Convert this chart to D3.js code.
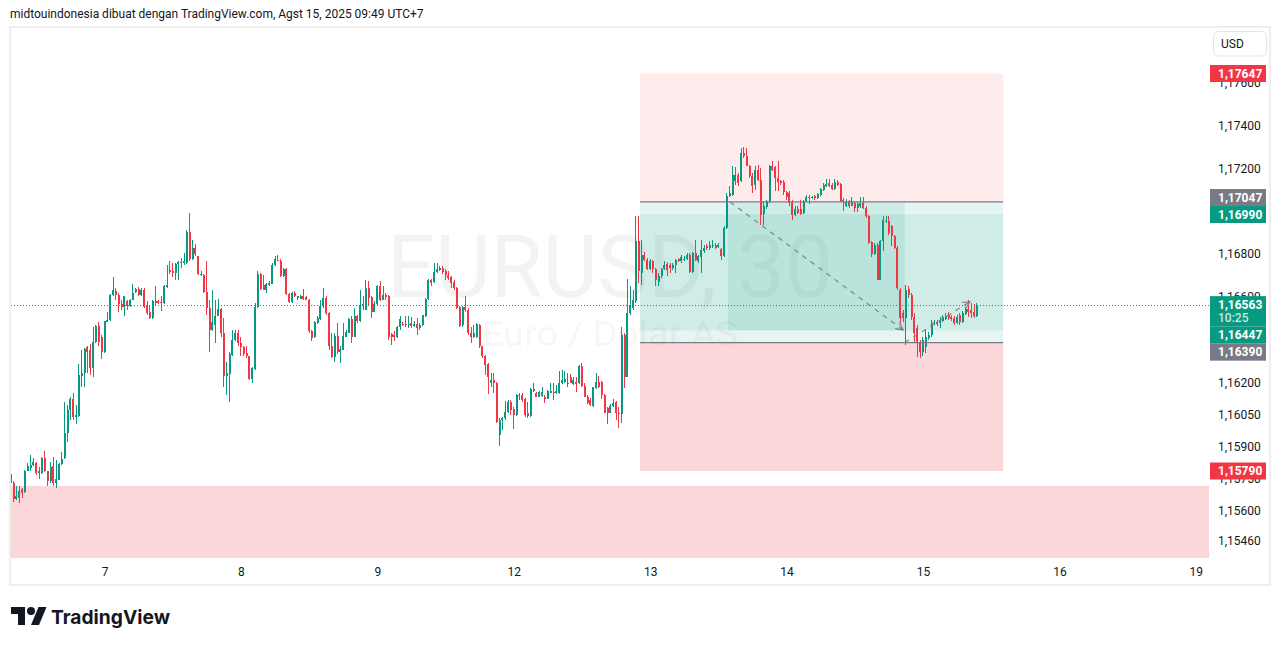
<!DOCTYPE html>
<html><head><meta charset="utf-8">
<script src="https://cdn.jsdelivr.net/npm/d3@7"></script>
<style>html,body{margin:0;padding:0;background:#fff;}svg{display:block}</style>
</head><body>
<svg id="c" width="1281" height="646"></svg>
<script>
// ---------- DATA (EURUSD 30m) ----------
const open = [1.15777,1.15733,1.15658,1.15666,1.15705,1.15691,1.15791,1.15803,1.15818,1.15826,
1.15780,1.15780,1.15849,1.15788,1.15741,1.15815,1.15733,1.15749,1.15821,1.15849,
1.15966,1.16075,1.16125,1.16041,1.16047,1.16236,1.16247,1.16367,1.16356,1.16273,
1.16392,1.16468,1.16418,1.16344,1.16487,1.16496,1.16610,1.16629,1.16613,1.16571,
1.16554,1.16582,1.16559,1.16590,1.16624,1.16642,1.16610,1.16637,1.16562,1.16531,
1.16504,1.16585,1.16582,1.16580,1.16574,1.16649,1.16730,1.16726,1.16715,1.16759,
1.16760,1.16762,1.16762,1.16905,1.16780,1.16832,1.16793,1.16707,1.16707,1.16626,
1.16551,1.16447,1.16473,1.16515,1.16548,1.16434,1.16236,1.16244,1.16333,1.16403,
1.16437,1.16390,1.16370,1.16340,1.16325,1.16220,1.16266,1.16556,1.16712,1.16660,
1.16637,1.16660,1.16665,1.16751,1.16777,1.16773,1.16699,1.16734,1.16617,1.16579,
1.16621,1.16596,1.16595,1.16606,1.16601,1.16590,1.16445,1.16414,1.16481,1.16501,
1.16559,1.16598,1.16528,1.16372,1.16322,1.16421,1.16344,1.16356,1.16418,1.16437,
1.16501,1.16418,1.16515,1.16489,1.16559,1.16543,1.16645,1.16603,1.16535,1.16571,
1.16656,1.16590,1.16610,1.16606,1.16428,1.16425,1.16418,1.16465,1.16478,1.16478,
1.16476,1.16481,1.16468,1.16478,1.16457,1.16473,1.16512,1.16593,1.16681,1.16671,
1.16721,1.16730,1.16737,1.16723,1.16707,1.16696,1.16671,1.16645,1.16556,1.16471,
1.16556,1.16543,1.16437,1.16418,1.16418,1.16473,1.16372,1.16325,1.16291,1.16203,
1.16216,1.16203,1.15958,1.16028,1.16036,1.16067,1.16114,1.16078,1.16052,1.16141,
1.16145,1.16125,1.16060,1.16047,1.16166,1.16153,1.16138,1.16141,1.16138,1.16128,
1.16156,1.16161,1.16153,1.16153,1.16200,1.16208,1.16197,1.16231,1.16197,1.16208,
1.16200,1.16281,1.16187,1.16138,1.16122,1.16094,1.16177,1.16208,1.16208,1.16145,
1.16083,1.16063,1.16094,1.16114,1.16060,1.16055,1.16426,1.16231,1.16528,1.16551,
1.16582,1.16863,1.16715,1.16800,1.16777,1.16733,1.16769,1.16733,1.16671,1.16699,
1.16733,1.16758,1.16754,1.16738,1.16754,1.16780,1.16769,1.16777,1.16780,1.16800,
1.16722,1.16808,1.16769,1.16790,1.16816,1.16839,1.16832,1.16839,1.16847,1.16836,
1.16827,1.16793,1.16925,1.17076,1.17081,1.17143,1.17175,1.17143,1.17276,1.17263,
1.17217,1.17170,1.17128,1.17198,1.17151,1.16992,1.17023,1.17050,1.17213,1.17210,
1.17159,1.17143,1.17139,1.17092,1.17089,1.17045,1.16988,1.17014,1.17014,1.16995,
1.17050,1.17070,1.17067,1.17073,1.17065,1.17081,1.17104,1.17120,1.17136,1.17128,
1.17107,1.17139,1.17133,1.17058,1.17026,1.17050,1.17029,1.17042,1.17019,1.17026,
1.17042,1.17019,1.16980,1.16858,1.16805,1.16847,1.16683,1.16863,1.16956,1.16959,
1.16933,1.16889,1.16832,1.16637,1.16529,1.16506,1.16641,1.16613,1.16510,1.16459,
1.16393,1.16347,1.16370,1.16412,1.16426,1.16482,1.16487,1.16482,1.16492,1.16501,
1.16520,1.16510,1.16506,1.16482,1.16520,1.16487,1.16524,1.16548,1.16543,1.16534,
1.16515];
const high = [1.15783,1.15741,1.15721,1.15721,1.15710,1.15795,1.15826,1.15865,1.15849,1.15834,
1.15811,1.15857,1.15883,1.15792,1.15834,1.15857,1.15841,1.15826,1.15880,1.16114,
1.16099,1.16138,1.16156,1.16099,1.16291,1.16353,1.16364,1.16372,1.16384,1.16465,
1.16473,1.16484,1.16426,1.16492,1.16531,1.16617,1.16695,1.16645,1.16621,1.16587,
1.16609,1.16590,1.16593,1.16663,1.16645,1.16648,1.16645,1.16645,1.16585,1.16559,
1.16590,1.16656,1.16590,1.16606,1.16660,1.16754,1.16773,1.16762,1.16762,1.16770,
1.16785,1.16808,1.16918,1.16993,1.16871,1.16852,1.16796,1.16723,1.16712,1.16773,
1.16590,1.16634,1.16590,1.16593,1.16551,1.16504,1.16301,1.16344,1.16447,1.16450,
1.16450,1.16418,1.16372,1.16372,1.16328,1.16278,1.16574,1.16723,1.16715,1.16707,
1.16668,1.16676,1.16762,1.16793,1.16801,1.16780,1.16738,1.16738,1.16621,1.16624,
1.16629,1.16609,1.16610,1.16640,1.16606,1.16593,1.16450,1.16489,1.16512,1.16590,
1.16645,1.16606,1.16531,1.16434,1.16437,1.16481,1.16372,1.16481,1.16450,1.16504,
1.16512,1.16551,1.16520,1.16637,1.16606,1.16684,1.16679,1.16609,1.16582,1.16660,
1.16676,1.16656,1.16621,1.16613,1.16437,1.16442,1.16468,1.16512,1.16484,1.16512,
1.16512,1.16509,1.16489,1.16504,1.16481,1.16520,1.16598,1.16687,1.16687,1.16762,
1.16762,1.16746,1.16746,1.16734,1.16723,1.16702,1.16681,1.16649,1.16562,1.16562,
1.16606,1.16551,1.16465,1.16473,1.16481,1.16478,1.16375,1.16333,1.16294,1.16247,
1.16247,1.16208,1.16036,1.16044,1.16117,1.16122,1.16122,1.16091,1.16148,1.16153,
1.16156,1.16130,1.16114,1.16177,1.16203,1.16161,1.16166,1.16184,1.16145,1.16169,
1.16200,1.16203,1.16192,1.16255,1.16262,1.16259,1.16247,1.16244,1.16231,1.16228,
1.16284,1.16294,1.16200,1.16145,1.16130,1.16184,1.16247,1.16234,1.16211,1.16150,
1.16091,1.16103,1.16125,1.16119,1.16091,1.16465,1.16434,1.16687,1.16656,1.16637,
1.16980,1.16980,1.16870,1.16811,1.16785,1.16780,1.16777,1.16738,1.16715,1.16738,
1.16769,1.16765,1.16761,1.16761,1.16780,1.16785,1.16800,1.16793,1.16808,1.16808,
1.16811,1.16870,1.16800,1.16870,1.16847,1.16852,1.16863,1.16870,1.16855,1.16855,
1.16832,1.16933,1.17089,1.17120,1.17213,1.17210,1.17182,1.17299,1.17304,1.17299,
1.17221,1.17182,1.17213,1.17221,1.17206,1.17050,1.17058,1.17221,1.17237,1.17217,
1.17237,1.17151,1.17151,1.17097,1.17097,1.17058,1.17026,1.17026,1.17058,1.17058,
1.17081,1.17081,1.17076,1.17081,1.17089,1.17112,1.17136,1.17156,1.17154,1.17136,
1.17156,1.17148,1.17136,1.17065,1.17061,1.17058,1.17070,1.17050,1.17045,1.17070,
1.17070,1.17026,1.16988,1.16863,1.16855,1.16855,1.16870,1.16980,1.16980,1.16980,
1.16941,1.16894,1.16839,1.16646,1.16543,1.16660,1.16655,1.16622,1.16529,1.16473,
1.16403,1.16417,1.16454,1.16440,1.16496,1.16496,1.16496,1.16510,1.16520,1.16529,
1.16534,1.16520,1.16515,1.16520,1.16529,1.16538,1.16557,1.16590,1.16576,1.16571,
1.16576];
const low = [1.15730,1.15647,1.15655,1.15642,1.15663,1.15686,1.15788,1.15788,1.15815,1.15772,
1.15752,1.15777,1.15783,1.15718,1.15733,1.15721,1.15710,1.15746,1.15818,1.15844,
1.15927,1.16028,1.16028,1.16010,1.16044,1.16181,1.16181,1.16247,1.16239,1.16231,
1.16387,1.16372,1.16312,1.16340,1.16484,1.16493,1.16606,1.16590,1.16535,1.16543,
1.16512,1.16543,1.16556,1.16587,1.16621,1.16609,1.16606,1.16551,1.16520,1.16500,
1.16500,1.16567,1.16571,1.16538,1.16571,1.16645,1.16712,1.16695,1.16684,1.16684,
1.16738,1.16754,1.16759,1.16770,1.16777,1.16796,1.16707,1.16702,1.16621,1.16520,
1.16344,1.16442,1.16387,1.16512,1.16418,1.16184,1.16145,1.16114,1.16328,1.16395,
1.16375,1.16325,1.16325,1.16317,1.16216,1.16200,1.16262,1.16551,1.16637,1.16634,
1.16621,1.16656,1.16663,1.16748,1.16770,1.16696,1.16696,1.16613,1.16574,1.16574,
1.16601,1.16590,1.16593,1.16590,1.16587,1.16437,1.16395,1.16411,1.16478,1.16496,
1.16551,1.16520,1.16356,1.16317,1.16297,1.16337,1.16294,1.16353,1.16414,1.16434,
1.16387,1.16415,1.16481,1.16484,1.16543,1.16540,1.16559,1.16504,1.16531,1.16567,
1.16582,1.16587,1.16590,1.16403,1.16379,1.16395,1.16411,1.16450,1.16468,1.16465,
1.16457,1.16457,1.16465,1.16426,1.16450,1.16468,1.16509,1.16590,1.16656,1.16668,
1.16715,1.16723,1.16712,1.16684,1.16684,1.16645,1.16637,1.16547,1.16465,1.16465,
1.16535,1.16426,1.16387,1.16411,1.16411,1.16364,1.16317,1.16239,1.16150,1.16184,
1.16153,1.16016,1.15907,1.15981,1.16028,1.16060,1.16052,1.15985,1.16047,1.16122,
1.16114,1.16044,1.16036,1.16044,1.16161,1.16135,1.16135,1.16138,1.16109,1.16125,
1.16153,1.16122,1.16150,1.16150,1.16197,1.16200,1.16184,1.16200,1.16192,1.16161,
1.16197,1.16184,1.16135,1.16103,1.16094,1.16091,1.16174,1.16177,1.16125,1.16060,
1.16010,1.16060,1.16091,1.16028,1.15993,1.16016,1.16177,1.16228,1.16520,1.16543,
1.16577,1.16668,1.16660,1.16769,1.16727,1.16727,1.16715,1.16652,1.16652,1.16691,
1.16727,1.16699,1.16715,1.16730,1.16715,1.16765,1.16761,1.16769,1.16774,1.16715,
1.16715,1.16769,1.16761,1.16715,1.16808,1.16824,1.16824,1.16832,1.16827,1.16832,
1.16774,1.16790,1.16920,1.17070,1.17076,1.17128,1.17120,1.17139,1.17253,1.17213,
1.17159,1.17089,1.17104,1.17143,1.16941,1.16941,1.17014,1.17042,1.17190,1.17097,
1.17097,1.17128,1.17081,1.17058,1.17026,1.16964,1.16980,1.16992,1.16988,1.16992,
1.17045,1.17039,1.17061,1.17058,1.17061,1.17076,1.17100,1.17117,1.17117,1.17101,
1.17104,1.17120,1.17045,1.17003,1.17023,1.17019,1.17026,1.16998,1.16998,1.17019,
1.17014,1.16972,1.16852,1.16790,1.16800,1.16680,1.16680,1.16816,1.16948,1.16894,
1.16839,1.16827,1.16637,1.16482,1.16487,1.16379,1.16599,1.16496,1.16393,1.16323,
1.16318,1.16328,1.16342,1.16403,1.16417,1.16473,1.16468,1.16459,1.16487,1.16496,
1.16496,1.16492,1.16473,1.16478,1.16473,1.16482,1.16520,1.16510,1.16506,1.16506,
1.16510];
const close = [1.15733,1.15658,1.15671,1.15697,1.15689,1.15791,1.15815,1.15818,1.15834,1.15780,
1.15791,1.15852,1.15788,1.15741,1.15811,1.15733,1.15752,1.15821,1.15844,1.15966,
1.16075,1.16125,1.16044,1.16052,1.16239,1.16247,1.16361,1.16344,1.16273,1.16392,
1.16468,1.16392,1.16348,1.16489,1.16496,1.16613,1.16634,1.16613,1.16570,1.16554,
1.16607,1.16559,1.16590,1.16621,1.16642,1.16613,1.16637,1.16556,1.16528,1.16503,
1.16585,1.16574,1.16577,1.16577,1.16656,1.16660,1.16718,1.16715,1.16759,1.16765,
1.16765,1.16773,1.16905,1.16780,1.16832,1.16805,1.16712,1.16712,1.16626,1.16551,
1.16447,1.16484,1.16515,1.16548,1.16434,1.16236,1.16247,1.16337,1.16403,1.16437,
1.16390,1.16370,1.16336,1.16325,1.16219,1.16269,1.16556,1.16712,1.16640,1.16637,
1.16665,1.16668,1.16754,1.16780,1.16773,1.16699,1.16734,1.16617,1.16579,1.16621,
1.16606,1.16606,1.16607,1.16595,1.16590,1.16442,1.16411,1.16484,1.16504,1.16559,
1.16596,1.16528,1.16372,1.16322,1.16421,1.16344,1.16359,1.16421,1.16440,1.16501,
1.16418,1.16512,1.16489,1.16562,1.16568,1.16645,1.16598,1.16535,1.16571,1.16656,
1.16590,1.16610,1.16603,1.16418,1.16418,1.16418,1.16465,1.16501,1.16475,1.16476,
1.16478,1.16468,1.16478,1.16457,1.16473,1.16517,1.16593,1.16681,1.16668,1.16721,
1.16735,1.16737,1.16718,1.16705,1.16690,1.16668,1.16643,1.16551,1.16468,1.16556,
1.16543,1.16434,1.16418,1.16434,1.16478,1.16372,1.16325,1.16286,1.16231,1.16216,
1.16200,1.16020,1.16028,1.16039,1.16067,1.16114,1.16075,1.16052,1.16145,1.16145,
1.16122,1.16052,1.16047,1.16172,1.16172,1.16138,1.16161,1.16161,1.16128,1.16164,
1.16166,1.16153,1.16166,1.16200,1.16216,1.16219,1.16200,1.16203,1.16216,1.16197,
1.16281,1.16187,1.16138,1.16109,1.16099,1.16181,1.16208,1.16184,1.16145,1.16063,
1.16063,1.16094,1.16106,1.16060,1.16055,1.16426,1.16231,1.16528,1.16562,1.16590,
1.16863,1.16723,1.16800,1.16777,1.16733,1.16769,1.16733,1.16683,1.16699,1.16733,
1.16754,1.16730,1.16738,1.16754,1.16774,1.16769,1.16788,1.16780,1.16800,1.16718,
1.16808,1.16777,1.16793,1.16824,1.16832,1.16832,1.16846,1.16847,1.16832,1.16846,
1.16793,1.16925,1.17076,1.17089,1.17175,1.17175,1.17136,1.17276,1.17260,1.17217,
1.17170,1.17123,1.17198,1.17151,1.16988,1.17026,1.17050,1.17217,1.17198,1.17159,
1.17139,1.17136,1.17092,1.17070,1.17042,1.16988,1.17014,1.16995,1.16992,1.17050,
1.17070,1.17067,1.17070,1.17064,1.17084,1.17107,1.17128,1.17129,1.17120,1.17107,
1.17139,1.17128,1.17050,1.17050,1.17050,1.17026,1.17045,1.17019,1.17039,1.17042,
1.17019,1.16980,1.16855,1.16805,1.16847,1.16683,1.16863,1.16961,1.16959,1.16902,
1.16886,1.16832,1.16644,1.16506,1.16506,1.16637,1.16613,1.16510,1.16435,1.16389,
1.16347,1.16403,1.16417,1.16426,1.16482,1.16487,1.16478,1.16496,1.16510,1.16515,
1.16506,1.16501,1.16482,1.16510,1.16487,1.16529,1.16548,1.16534,1.16529,1.16515,
1.16563];

// time axis: candle index of each day label (30m bars, weekend skipped)
const dayTickIndex = [33, 81, 129, 177, 225, 273, 321, 369, 417];
const dayTickLabels = ["7", "8", "9", "12", "13", "14", "15", "16", "19"];
// price axis tick labels
const priceTicks = [1.17600, 1.17400, 1.17200, 1.16800, 1.16600, 1.16200, 1.16050, 1.15900, 1.15750, 1.15600, 1.15460];
const lastPrice = 1.16563;
const countdown = "10:25";

// drawings (time in bar index, values in price)
const posFrom = 221.4, posTo = 349.2;
const stopTop = 1.17647, entryShort = 1.17047, targetUpper = 1.16990;
const targetLower = 1.16447, entryLong = 1.16390, stopBottom = 1.15790;
const innerBox = {from: 252.4, to: 314.6, top: 1.17047, bottom: 1.16447};
const supportZone = {from: -20, to: 430, top: 1.15720, bottom: 1.15300};
const arrowDown = [[253.1, 1.17047], [314.0, 1.16449]];
const arrowUp = [[314.6, 1.16390], [337.5, 1.16581]];

const headerText = "midtouindonesia dibuat dengan TradingView.com, Agst 15, 2025 09:49 UTC+7";
const watermark1 = "EURUSD, 30", watermark2 = "Euro / Dolar AS";
const currency = "USD";

// ---------- CHART ----------
const UP = "#089981", DOWN = "#f23645", GRAY = "#787b86", TXT = "#131722";
const FONT = "Roboto, 'Noto Sans', sans-serif";
const svg = d3.select("#c");
const pane = {l: 11, r: 1209, t: 28, b: 558};

const x = d3.scaleLinear().domain([33, 417]).range([104.5, 1195.8]);
const y = d3.scaleLinear().domain([1.15790, 1.17647]).range([471, 73.5]);
const fmt = v => v.toFixed(5).replace(".", ",");

svg.append("rect").attr("width", 1281).attr("height", 646).attr("fill", "#fff");

const defs = svg.append("defs");
defs.append("clipPath").attr("id", "paneClip").append("rect")
  .attr("x", pane.l).attr("y", pane.t).attr("width", pane.r - pane.l).attr("height", pane.b - pane.t);
defs.append("marker").attr("id", "ah").attr("viewBox", "0 0 10 10").attr("refX", 9).attr("refY", 5)
  .attr("markerWidth", 9).attr("markerHeight", 9).attr("markerUnits", "userSpaceOnUse").attr("orient", "auto")
  .append("path").attr("d", "M1,1 L9,5 L1,9").attr("fill", "none").attr("stroke", GRAY).attr("stroke-width", 1.3);

const g = svg.append("g").attr("clip-path", "url(#paneClip)");

// watermark
const cxPane = (pane.l + pane.r) / 2;
const wm1 = g.append("text").attr("x", cxPane).attr("y", 297).attr("text-anchor", "middle")
  .attr("font-family", FONT).attr("font-size", 87).attr("fill", TXT).attr("fill-opacity", 0.05).text(watermark1);
const wm2 = g.append("text").attr("x", cxPane).attr("y", 346).attr("text-anchor", "middle")
  .attr("font-family", FONT).attr("font-size", 35).attr("fill", TXT).attr("fill-opacity", 0.05).text(watermark2);
function fitWidth(sel, target){ const w = sel.node().getComputedTextLength(); if (w > 0) sel.attr("textLength", target).attr("lengthAdjust", "spacingAndGlyphs"); }
fitWidth(wm1, 446); fitWidth(wm2, 256);

const rectP = (from, to, top, bottom, fill) => g.append("rect")
  .attr("x", x(from)).attr("width", x(to) - x(from))
  .attr("y", y(top)).attr("height", y(bottom) - y(top)).attr("fill", fill);

// support zone
rectP(supportZone.from, supportZone.to, supportZone.top, supportZone.bottom, "rgba(242,54,69,0.2)");
// position tools
rectP(posFrom, posTo, stopTop, entryShort, "rgba(242,54,69,0.1)");
rectP(posFrom, posTo, entryShort, entryLong, "rgba(8,153,129,0.1)");
rectP(posFrom, posTo, targetUpper, targetLower, "rgba(8,153,129,0.1)");
rectP(posFrom, posTo, entryLong, stopBottom, "rgba(242,54,69,0.2)");
rectP(innerBox.from, innerBox.to, innerBox.top, innerBox.bottom, "rgba(8,153,129,0.1)");

// candles
const gc = g.append("g").attr("shape-rendering", "crispEdges");
d3.range(close.length).forEach(i => {
  const col = close[i] >= open[i] ? UP : DOWN;
  const cx = x(i);
  gc.append("rect").attr("x", Math.round(cx - 0.5)).attr("width", 1)
    .attr("y", y(high[i])).attr("height", Math.max(1, y(low[i]) - y(high[i]))).attr("fill", col);
  const bt = y(Math.max(open[i], close[i])), bb = y(Math.min(open[i], close[i]));
  gc.append("rect").attr("x", Math.round(cx - 1)).attr("width", 2)
    .attr("y", bt).attr("height", Math.max(1, bb - bt)).attr("fill", col);
});

// entry lines
[entryShort, entryLong].forEach(v => g.append("line")
  .attr("x1", x(posFrom)).attr("x2", x(posTo)).attr("y1", y(v)).attr("y2", y(v))
  .attr("stroke", GRAY).attr("stroke-width", 1.2));

// dashed arrows
[arrowDown, arrowUp].forEach(a => g.append("line")
  .attr("x1", x(a[0][0])).attr("y1", y(a[0][1])).attr("x2", x(a[1][0])).attr("y2", y(a[1][1]))
  .attr("stroke", GRAY).attr("stroke-opacity", 0.85).attr("stroke-width", 1.3)
  .attr("stroke-dasharray", "5,5").attr("marker-end", "url(#ah)"));

// last price line
g.append("line").attr("x1", pane.l).attr("x2", pane.r).attr("y1", y(lastPrice)).attr("y2", y(lastPrice))
  .attr("stroke", UP).attr("stroke-width", 1).attr("stroke-dasharray", "1,2");

// axes
const yAxis = d3.axisRight(y).tickValues(priceTicks).tickFormat(fmt).tickSize(0).tickPadding(9);
svg.append("g").attr("transform", `translate(${pane.r},0)`).call(yAxis)
  .attr("font-family", FONT).attr("font-size", 12)
  .call(a => a.select(".domain").remove())
  .selectAll("text").attr("fill", TXT).attr("dy", "0.25em");
const xAxis = d3.axisBottom(x).tickValues(dayTickIndex).tickFormat((d, i) => dayTickLabels[i]).tickSize(0).tickPadding(9);
svg.append("g").attr("transform", `translate(0,${pane.b})`).call(xAxis)
  .attr("font-family", FONT).attr("font-size", 12)
  .call(a => a.select(".domain").remove())
  .selectAll("text").attr("fill", TXT);

// price badges
const badges = [
  {v: stopTop, fill: DOWN, lines: [fmt(stopTop)]},
  {v: entryShort, fill: GRAY, lines: [fmt(entryShort)]},
  {v: targetUpper, fill: UP, lines: [fmt(targetUpper)]},
  {v: lastPrice, fill: UP, lines: [fmt(lastPrice), countdown]},
  {v: targetLower, fill: UP, lines: [fmt(targetLower)]},
  {v: entryLong, fill: GRAY, lines: [fmt(entryLong)]},
  {v: stopBottom, fill: DOWN, lines: [fmt(stopBottom)]},
];
badges.forEach(b => { b.y = y(b.v); b.h = b.lines.length > 1 ? 30.5 : 17; b.anchor = 8.5; });
badges.sort((a, b) => a.y - b.y);
let groups = badges.map(b => ({items: [b], top: b.y - b.anchor, h: b.h}));
let changed = true;
while (changed) {
  changed = false;
  for (let k = 0; k < groups.length - 1; k++) {
    const a = groups[k], n = groups[k + 1];
    if (a.top + a.h > n.top + 0.01) {
      const items = a.items.concat(n.items);
      const h = a.h + n.h;
      const c = d3.mean(items, it => it.y - it.anchor + it.h / 2);
      groups.splice(k, 2, {items, top: c - h / 2 - (items.length === 2 ? 2 : 0), h});
      changed = true; break;
    }
  }
}
groups.forEach(gr => { let t = gr.top; gr.items.forEach(it => { it.top = t; t += it.h; }); });
const gb = svg.append("g").attr("font-family", FONT).attr("font-size", 12);
badges.forEach(b => {
  gb.append("rect").attr("x", 1210).attr("y", b.top).attr("width", 56).attr("height", b.h).attr("fill", b.fill);
  b.lines.forEach((t, j) => gb.append("text").attr("x", 1218).attr("y", b.top + 8.5 + j * 13.2)
    .attr("dy", "0.35em").attr("font-weight", j === 0 ? 700 : 500)
    .attr("fill", j === 0 ? "#fff" : "rgba(255,255,255,0.8)").text(t));
});

// currency button
svg.append("rect").attr("x", 1213.5).attr("y", 31.5).attr("width", 53).attr("height", 24.5).attr("rx", 5)
  .attr("fill", "#fff").attr("stroke", "#e0e3eb");
svg.append("text").attr("x", 1221).attr("y", 44).attr("dy", "0.35em").attr("font-family", FONT)
  .attr("font-size", 12).attr("fill", TXT).text(currency);

// frame
svg.append("rect").attr("x", 10).attr("y", 27).attr("width", 1260).attr("height", 558)
  .attr("fill", "none").attr("stroke", "#eeeeee").attr("stroke-width", 2);

// header
const hd = svg.append("text").attr("x", 10).attr("y", 18).attr("font-family", FONT).attr("font-size", 12)
  .attr("fill", TXT).text(headerText);
{ const w = hd.node().getComputedTextLength(); hd.attr("font-size", Math.max(10.5, Math.min(13.5, 12 * 414 / w))); }

// logo
const lg = svg.append("g").attr("transform", "translate(11,603)").attr("fill", TXT);
lg.append("path").attr("d", "M14 22H7V11H0V4h14v18z");
lg.append("path").attr("d", "M28 22h-8l7.5-18h8L28 22z");
lg.append("circle").attr("cx", 20).attr("cy", 8).attr("r", 4);
const lt = svg.append("text").attr("x", 51).attr("y", 624).attr("font-family", "Inter, Roboto, sans-serif")
  .attr("font-weight", 700).attr("font-size", 20).attr("fill", TXT).text("TradingView");
{ const w = lt.node().getComputedTextLength(); lt.attr("font-size", 20 * 119 / w); }
</script>
</body></html>
